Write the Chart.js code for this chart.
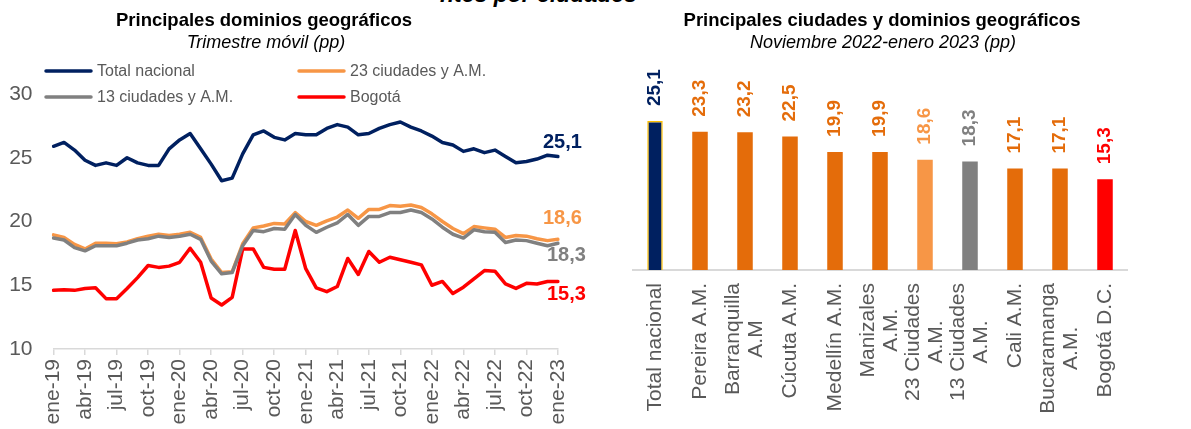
<!DOCTYPE html>
<html lang="es">
<head>
<meta charset="UTF-8">
<title>Principales dominios geográficos</title>
<script src="https://cdn.jsdelivr.net/npm/chart.js@4.4.0/dist/chart.umd.min.js"></script>
<style>
  body { margin: 0; width: 1191px; height: 429px; overflow: hidden; background: #fff;
         font-family: "Liberation Sans", Arial, sans-serif; position: relative; }
  .panel { position: absolute; top: 0; height: 429px; }
  #izq { left: 0; width: 600px; }
  #der { left: 600px; width: 591px; }
  .panel canvas { position: absolute; left: 0; top: 0; }
  .titulo { position: absolute; top: 9px; text-align: center; font-weight: bold; font-size: 18.5px; color: #000; z-index: 2; }
  .sub { position: absolute; top: 32px; text-align: center; font-style: italic; font-size: 18px; color: #000; z-index: 2; }
  .cortado { position: absolute; top: -19px; left: 440px; font-style: italic; font-weight: bold; font-size: 23px; color: #000; }
</style>
</head>
<body>
<div class="cortado">ntes por ciudades</div>
<div class="panel" id="izq">
  <div class="titulo" style="left:0;width:528px">Principales dominios geográficos</div>
  <div class="sub" style="left:0;width:532px">Trimestre móvil (pp)</div>
  <canvas id="lineas" width="600" height="429"></canvas>
</div>
<div class="panel" id="der">
  <div class="titulo" style="left:0;width:564px">Principales ciudades y dominios geográficos</div>
  <div class="sub" style="left:0;width:566px">Noviembre 2022-enero 2023 (pp)</div>
  <canvas id="barras" width="591" height="429"></canvas>
</div>
<script>
// datos serie mensual (trimestre móvil)
const meses = [
  'ene-19','feb-19','mar-19','abr-19','may-19','jun-19','jul-19','ago-19','sep-19','oct-19','nov-19','dic-19',
  'ene-20','feb-20','mar-20','abr-20','may-20','jun-20','jul-20','ago-20','sep-20','oct-20','nov-20','dic-20',
  'ene-21','feb-21','mar-21','abr-21','may-21','jun-21','jul-21','ago-21','sep-21','oct-21','nov-21','dic-21',
  'ene-22','feb-22','mar-22','abr-22','may-22','jun-22','jul-22','ago-22','sep-22','oct-22','nov-22','dic-22',
  'ene-23'
];
const totalNacional = [
  25.9, 26.2, 25.6, 24.8, 24.4, 24.6, 24.4, 25.0, 24.6, 24.4, 24.4, 25.7,
  26.4, 26.9, 25.7, 24.5, 23.2, 23.4, 25.3, 26.8, 27.1, 26.6, 26.4, 26.9,
  26.8, 26.8, 27.3, 27.6, 27.4, 26.8, 26.9, 27.3, 27.6, 27.8, 27.4, 27.1,
  26.7, 26.2, 26.0, 25.5, 25.7, 25.4, 25.6, 25.1, 24.6, 24.7, 24.9, 25.2,
  25.1
];
const ciudades23 = [
  18.95, 18.75, 18.2, 17.85, 18.3, 18.3, 18.25, 18.4, 18.65, 18.85, 19.0, 18.9,
  19.0, 19.15, 18.75, 17.05, 16.0, 16.05, 18.25, 19.5, 19.65, 19.85, 19.8, 20.7,
  20.0, 19.7, 20.05, 20.35, 20.9, 20.25, 20.95, 20.95, 21.25, 21.2, 21.3, 21.1,
  20.6, 20.0, 19.45, 19.05, 19.6, 19.5, 19.4, 18.75, 18.9, 18.85, 18.65, 18.5,
  18.6
];
const ciudades13 = [
  18.7, 18.55, 17.95, 17.7, 18.1, 18.1, 18.1, 18.3, 18.55, 18.65, 18.85, 18.75,
  18.85, 19.0, 18.6, 16.9, 15.9, 16.0, 18.1, 19.3, 19.2, 19.45, 19.4, 20.55,
  19.7, 19.15, 19.55, 19.9, 20.55, 19.7, 20.4, 20.4, 20.7, 20.7, 20.9, 20.7,
  20.2, 19.55, 19.0, 18.7, 19.35, 19.2, 19.15, 18.35, 18.55, 18.5, 18.3, 18.1,
  18.3
];
const bogota = [
  14.6, 14.65, 14.6, 14.75, 14.8, 13.95, 13.95, 14.75, 15.6, 16.55, 16.4, 16.5,
  16.8, 17.9, 16.8, 14.0, 13.45, 14.05, 17.85, 17.85, 16.4, 16.25, 16.25, 19.3,
  16.3, 14.8, 14.5, 14.9, 17.1, 15.85, 17.65, 16.8, 17.2, 17.0, 16.8, 16.6,
  15.0, 15.3, 14.35, 14.85, 15.5, 16.15, 16.1, 15.1, 14.75, 15.15, 15.1, 15.3,
  15.3
];

// datos barras
const ciudades = [
  'Total nacional', 'Pereira A.M.', ['Barranquilla', 'A.M'], 'Cúcuta A.M.', 'Medellín A.M.',
  ['Manizales', 'A.M.'], ['23 Ciudades', 'A.M.'], ['13 Ciudades', 'A.M.'], 'Cali A.M.',
  ['Bucaramanga', 'A.M.'], 'Bogotá D.C.'
];
const brechas = [25.1, 23.3, 23.2, 22.5, 19.9, 19.9, 18.6, 18.3, 17.1, 17.1, 15.3];

const fuente = '"Liberation Sans", Arial, sans-serif';
const gris = '#595959';
const naranja = '#E46C0A';
const coloresBarras = ['#002060', naranja, naranja, naranja, naranja, naranja, '#F79646', '#808080', naranja, naranja, '#FF0000'];

function coma(v) { return v.toFixed(1).replace('.', ','); }

// leyenda en dos columnas
const leyenda = {
  id: 'leyenda',
  afterDraw(chart) {
    const ctx = chart.ctx;
    const pos = [[46, 71], [299, 71], [46, 97], [299, 97]];
    chart.data.datasets.forEach((ds, i) => {
      const [x, y] = pos[i];
      ctx.save();
      ctx.strokeStyle = ds.borderColor;
      ctx.lineWidth = 3.5;
      ctx.lineCap = 'round';
      ctx.beginPath();
      ctx.moveTo(x, y);
      ctx.lineTo(x + 45, y);
      ctx.stroke();
      ctx.fillStyle = gris;
      ctx.font = '16px ' + fuente;
      ctx.textBaseline = 'middle';
      ctx.fillText(ds.label, x + 51, y + 1);
      ctx.restore();
    });
  }
};

// valor del ultimo mes junto a cada linea
const finales = {
  id: 'finales',
  afterDatasetsDraw(chart) {
    const ctx = chart.ctx;
    const desp = [[-15, -14], [-15, -21], [-11, 12], [-11, 13]];
    chart.data.datasets.forEach((ds, i) => {
      const meta = chart.getDatasetMeta(i);
      const pt = meta.data[meta.data.length - 1];
      ctx.save();
      ctx.fillStyle = ds.borderColor;
      ctx.font = 'bold 20px ' + fuente;
      ctx.textBaseline = 'middle';
      ctx.fillText(coma(ds.data[ds.data.length - 1]), pt.x + desp[i][0], pt.y + desp[i][1]);
      ctx.restore();
    });
  }
};

new Chart(document.getElementById('lineas'), {
  type: 'line',
  data: {
    labels: meses,
    datasets: [
      { label: 'Total nacional', data: totalNacional, borderColor: '#002060', order: 0 },
      { label: '23 ciudades y A.M.', data: ciudades23, borderColor: '#F79646', order: 1 },
      { label: '13 ciudades y A.M.', data: ciudades13, borderColor: '#808080', order: 0 },
      { label: 'Bogotá', data: bogota, borderColor: '#FF0000', order: 0 }
    ]
  },
  options: {
    responsive: false,
    animation: false,
    layout: { padding: { top: 94, right: 42, left: 0, bottom: 0 } },
    elements: {
      point: { radius: 0 },
      line: { borderWidth: 3.5, tension: 0, borderJoinStyle: 'round', borderCapStyle: 'round' }
    },
    plugins: { legend: { display: false }, tooltip: { enabled: false } },
    scales: {
      x: {
        afterFit(s) { s.height = 80; },
        border: { color: '#D9D9D9', width: 1.5 },
        grid: {
          drawOnChartArea: false, tickLength: 6, lineWidth: 1.5,
          color: (c) => c.index % 3 === 0 ? '#D9D9D9' : 'rgba(0,0,0,0)'
        },
        ticks: {
          autoSkip: false, minRotation: 90, maxRotation: 90, padding: 4,
          color: gris, font: { family: fuente, size: 21 },
          callback: function (v, i) { return i % 3 === 0 ? this.getLabelForValue(v) : ''; }
        }
      },
      y: {
        min: 10, max: 30,
        afterFit(s) { s.width = 53.5; },
        border: { display: false },
        grid: { display: false, drawTicks: false },
        ticks: { stepSize: 5, padding: 21, color: gris, font: { family: fuente, size: 21 } }
      }
    }
  },
  plugins: [leyenda, finales]
});

// etiquetas de valor giradas sobre las barras
const valoresBarra = {
  id: 'valoresBarra',
  afterDatasetsDraw(chart) {
    const ctx = chart.ctx;
    const meta = chart.getDatasetMeta(0);
    meta.data.forEach((bar, i) => {
      ctx.save();
      ctx.translate(bar.x, bar.y - 15);
      ctx.rotate(-Math.PI / 2);
      ctx.fillStyle = coloresBarras[i];
      ctx.font = 'bold 19px ' + fuente;
      ctx.textAlign = 'left';
      ctx.textBaseline = 'middle';
      ctx.fillText(coma(brechas[i]), 0, 0);
      ctx.restore();
    });
  }
};

// nombres de ciudades girados, lineas centradas entre si
const nombres = {
  id: 'nombres',
  afterDraw(chart) {
    const ctx = chart.ctx;
    const sx = chart.scales.x;
    ctx.save();
    ctx.font = '21px ' + fuente;
    ctx.fillStyle = gris;
    ctx.textAlign = 'center';
    ctx.textBaseline = 'middle';
    chart.data.labels.forEach((lab, i) => {
      const lineas = Array.isArray(lab) ? lab : [lab];
      const x = sx.getPixelForTick(i);
      const ancho = Math.max(...lineas.map(l => ctx.measureText(l).width));
      const cy = sx.top + 13 + ancho / 2;
      lineas.forEach((l, j) => {
        ctx.save();
        ctx.translate(x + (j - (lineas.length - 1) / 2) * 23, cy);
        ctx.rotate(-Math.PI / 2);
        ctx.fillText(l, 0, 0);
        ctx.restore();
      });
    });
    ctx.restore();
  }
};

new Chart(document.getElementById('barras'), {
  type: 'bar',
  data: {
    labels: ciudades,
    datasets: [{
      data: brechas,
      backgroundColor: coloresBarras,
      borderColor: ['#FFC000'].concat(Array(10).fill('rgba(0,0,0,0)')),
      borderWidth: [1.5].concat(Array(10).fill(0)),
      categoryPercentage: 1,
      barPercentage: 0.345
    }]
  },
  options: {
    responsive: false,
    animation: false,
    layout: { padding: { top: 92, right: 63.5, left: 32.5, bottom: 0 } },
    plugins: { legend: { display: false }, tooltip: { enabled: false } },
    scales: {
      x: {
        afterFit(s) { s.height = 159; },
        border: { color: '#D9D9D9', width: 2 },
        grid: { display: false },
        ticks: { display: false }
      },
      y: { display: false, min: 0, max: 30 }
    }
  },
  plugins: [valoresBarra, nombres]
});
</script>
</body>
</html>
